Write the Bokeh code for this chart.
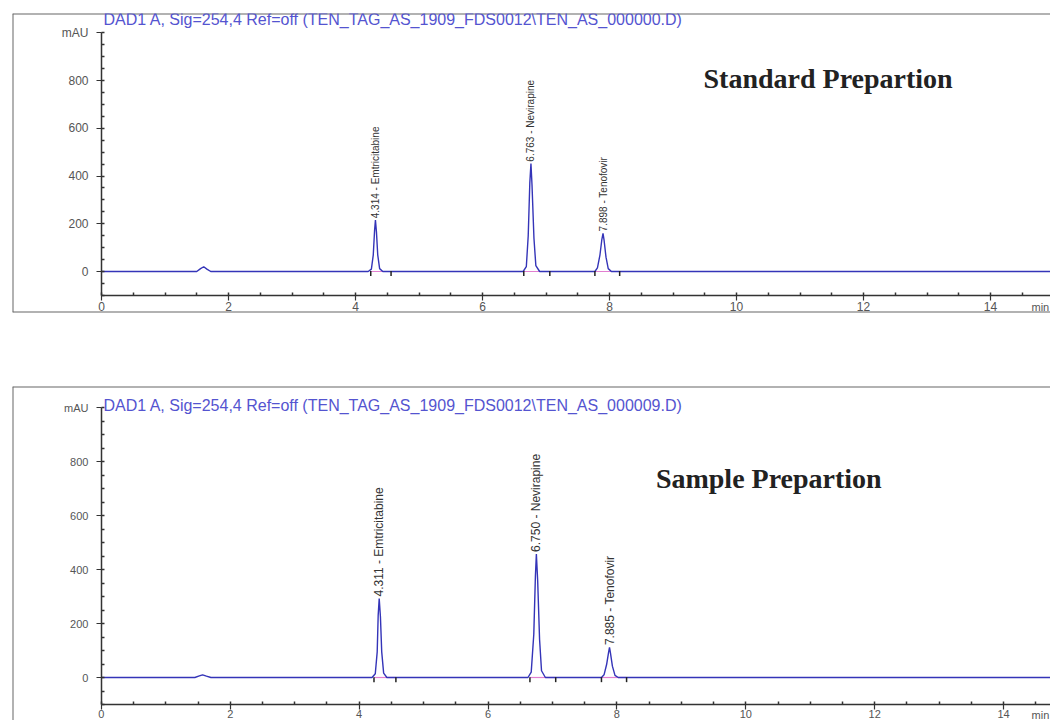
import math
from bokeh.plotting import figure
from bokeh.models import LinearAxis, FixedTicker, Range1d, Label, Span, ColumnDataSource
from bokeh.layouts import column
from bokeh.embed import file_html
from bokeh.resources import INLINE
from bokeh.core.properties import value

# ---------------- data ----------------
peak_names = ["Emtricitabine", "Nevirapine", "Tenofovir"]
x_ticks = [0, 2, 4, 6, 8, 10, 12, 14]
y_ticks = [0, 200, 400, 600, 800, 1000]
y_tick_labels = {1000: "mAU"}

std_title = "DAD1 A, Sig=254,4 Ref=off (TEN_TAG_AS_1909_FDS0012\\TEN_AS_000000.D)"
smp_title = "DAD1 A, Sig=254,4 Ref=off (TEN_TAG_AS_1909_FDS0012\\TEN_AS_000009.D)"
std_caption = "Standard Prepartion"
smp_caption = "Sample Prepartion"

std_rt = [4.314, 6.763, 7.898]
std_height = [215, 452, 160]
std_start = [4.24, 6.65, 7.77]
std_end = [4.56, 7.06, 8.16]
std_time = [0.0, 1.50, 1.56, 1.61, 1.66, 1.72,
            4.20, 4.25, 4.28, 4.30, 4.314, 4.33, 4.35, 4.38, 4.43,
            6.64, 6.69, 6.72, 6.745, 6.763, 6.78, 6.81, 6.84, 6.90,
            7.77, 7.81, 7.85, 7.88, 7.898, 7.915, 7.945, 7.98, 8.03,
            16.0]
std_signal = [0, 0, 12, 20, 10, 0,
              0, 10, 70, 170, 215, 165, 70, 12, 0,
              0, 20, 150, 370, 452, 360, 140, 25, 0,
              0, 15, 70, 135, 160, 130, 60, 12, 0,
              0]

smp_rt = [4.311, 6.750, 7.885]
smp_height = [292, 457, 112]
smp_start = [4.23, 6.65, 7.76]
smp_end = [4.57, 7.05, 8.15]
smp_time = [0.0, 1.45, 1.52, 1.57, 1.63, 1.70,
            4.20, 4.25, 4.28, 4.295, 4.311, 4.33, 4.35, 4.38, 4.43,
            6.62, 6.67, 6.71, 6.735, 6.750, 6.77, 6.80, 6.83, 6.89,
            7.76, 7.80, 7.84, 7.87, 7.885, 7.90, 7.93, 7.97, 8.02,
            16.0]
smp_signal = [0, 0, 6, 10, 5, 0,
              0, 14, 95, 230, 292, 225, 95, 16, 0,
              0, 20, 160, 375, 457, 360, 140, 25, 0,
              0, 10, 48, 92, 112, 90, 42, 8, 0,
              0]

TRACE = "#3434b8"
TITLE_C = "#5454d0"
AX = "#333333"
LBL = "#555555"


def make_panel(height, borders, xr, yr, title, title_y, caption, cap_xy, cap_size,
               t, s, rt, h, starts, ends, lab_size, min_xy, bottom_border,
               tick_font, x_standoff):
    p = figure(width=1050, height=height, output_backend="svg", toolbar_location=None,
               x_axis_location=None, y_axis_location=None,
               x_range=Range1d(*xr), y_range=Range1d(*yr),
               min_border_left=borders[0], min_border_top=borders[1],
               min_border_right=borders[2], min_border_bottom=borders[3])
    p.xgrid.visible = False
    p.ygrid.visible = False
    p.outline_line_color = None
    p.background_fill_color = "white"
    p.border_fill_color = "white"

    yaxis = LinearAxis(fixed_location=0, bounds=(-100, 1000),
                       ticker=FixedTicker(ticks=y_ticks,
                                          minor_ticks=[v for v in range(-100, 1001, 50)]),
                       major_label_overrides=y_tick_labels)
    xaxis = LinearAxis(fixed_location=-100, bounds=(0, 16),
                       ticker=FixedTicker(ticks=x_ticks,
                                          minor_ticks=[i * 0.5 for i in range(0, 33)]))
    for ax in (yaxis, xaxis):
        ax.axis_line_color = AX
        ax.axis_line_width = 1.5
        ax.major_tick_line_color = AX
        ax.minor_tick_line_color = AX
        ax.major_tick_line_width = 1.2
        ax.minor_tick_line_width = 1.5
        ax.major_tick_out = 5
        ax.major_tick_in = 0
        ax.minor_tick_out = 0
        ax.minor_tick_in = 3
        ax.major_label_text_font = "Liberation Sans"
        ax.major_label_text_font_size = tick_font
        ax.major_label_text_color = LBL
    yaxis.major_label_standoff = 8
    xaxis.major_label_standoff = x_standoff
    p.add_layout(yaxis, "left")
    p.add_layout(xaxis, "below")

    # frame borders
    p.add_layout(Span(location=xr[0], dimension="height", line_color="#666666", line_width=2))
    p.add_layout(Span(location=yr[1], dimension="width", line_color="#666666", line_width=2))
    if bottom_border:
        p.add_layout(Span(location=yr[0], dimension="width", line_color="#666666", line_width=2))

    # integration baselines and markers
    p.segment(x0=starts, y0=[0] * len(starts), x1=ends, y1=[0] * len(ends),
              line_color="#e27fd0", line_width=1.2)
    p.line(t, s, line_color=TRACE, line_width=1.4)
    p.scatter(x=starts + ends, y=[-8] * (len(starts) + len(ends)), marker="dash",
              angle=math.pi / 2, size=5, line_color="#222222", line_width=1.5)

    labels = [f"{r:.3f} - {n}" for r, n in zip(rt, peak_names)]
    src = ColumnDataSource(dict(x=rt, y=[v + 8 for v in h], text=labels))
    p.text(x="x", y="y", text="text", source=src, angle=math.pi / 2,
           text_align="left", text_baseline="middle",
           text_font=value("Liberation Sans"), text_font_size=value(lab_size),
           text_color="#333333")

    p.add_layout(Label(x=0, y=title_y, x_offset=2, text=title, text_font="Liberation Sans",
                       text_font_size="16px", text_color=TITLE_C, text_baseline="middle"))
    p.add_layout(Label(x=cap_xy[0], y=cap_xy[1], text=caption, text_font="Liberation Serif",
                       text_font_style="bold", text_font_size=cap_size, text_color="#222222",
                       text_baseline="middle"))
    p.add_layout(Label(x=min_xy[0], y=min_xy[1], text="min", text_font="Liberation Sans",
                       text_font_size="11px", text_color=LBL, text_baseline="middle"))
    return p


# top panel: frame x 12.., y 13..312 ; x0 at 101, 63.5 px/min ; y0 at 271, 0.23875 px/mAU
kx1, ky1 = 63.5, 0.23875
x1s = (12 - 101) / kx1
xr1 = (x1s, x1s + 1038 / kx1)
y1e = (271 - 13) / ky1
yr1 = (y1e - 299 / ky1, y1e)
p1 = make_panel(346, (12, 13, 0, 34), xr1, yr1, std_title, (271 - 19) / ky1,
                std_caption, ((703 - 101) / kx1, (271 - 78) / ky1), "28px",
                std_time, std_signal, std_rt, std_height, std_start, std_end, "10px",
                ((1031 - 101) / kx1, (271 - 306) / ky1), True, "12px", 2)

# bottom panel: frame x 11.., y 386..720 ; x0 at 100, 64.5 px/min ; y0 at 677, 0.27 px/mAU
kx2, ky2 = 64.5, 0.27
x2s = (11 - 100) / kx2
xr2 = (x2s, x2s + 1039 / kx2)
y2e = (677 - 386) / ky2
yr2 = (y2e - 334 / ky2, y2e)
p2 = make_panel(374, (11, 40, 0, 0), xr2, yr2, smp_title, (677 - 405) / ky2,
                smp_caption, ((655 - 100) / kx2, (677 - 478) / ky2), "28px",
                smp_time, smp_signal, smp_rt, smp_height, smp_start, smp_end, "12px",
                ((1031 - 100) / kx2, (677 - 714) / ky2), False, "11px", 0)

layout = column(p1, p2, spacing=0)
open("out.html", "w").write(file_html(layout, INLINE))
